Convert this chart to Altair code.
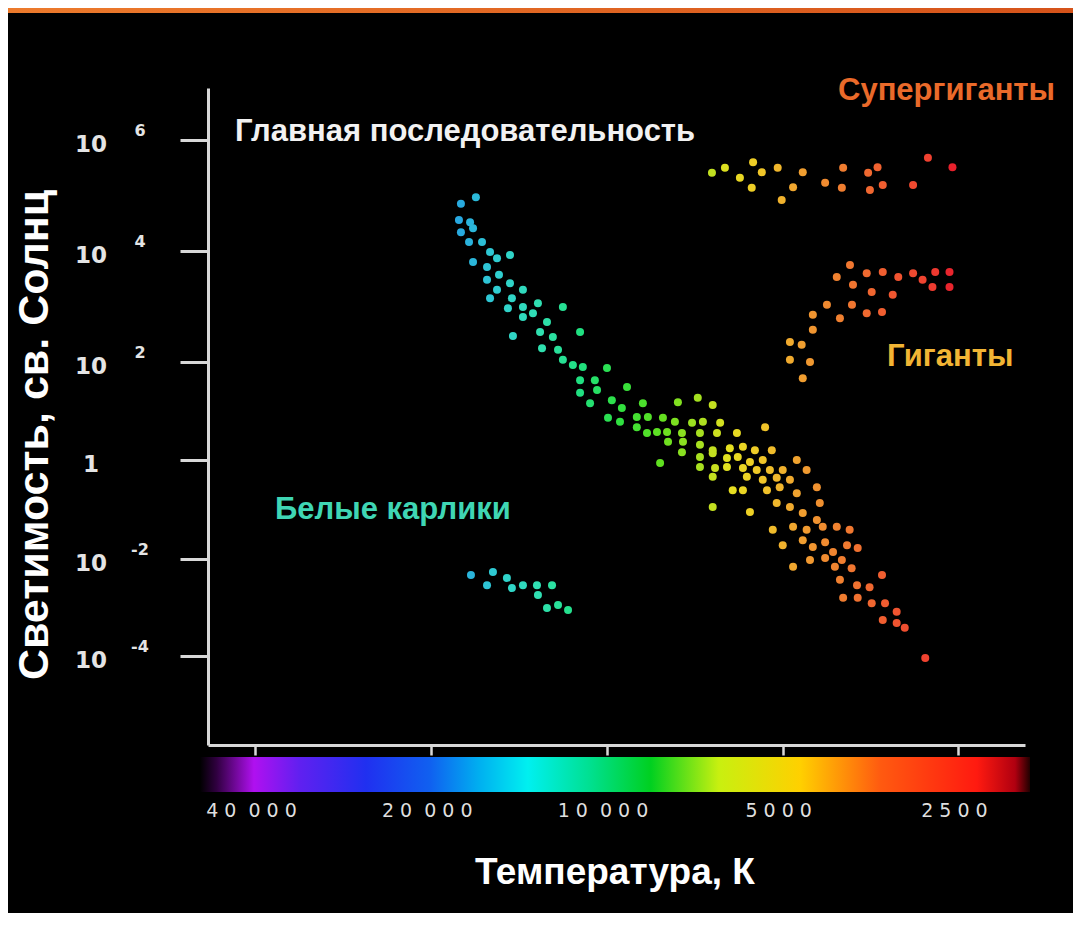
import altair as alt
import pandas as pd

# ---------------- data (temperature K, log10 luminosity in solar units) -------------
ms_temp = [
    16770, 17790, 17930, 17160, 16960, 17790, 17230, 16370, 16960, 15860, 15430, 14660,
    16050, 15310, 16050, 14660, 15430, 13930, 15860, 14550, 14780, 13930, 13930, 14490,
    13130, 11900, 13390, 12670, 13020, 12380, 11120, 12920, 12130, 11900, 11440, 11000,
    10000, 11120, 10490, 9240, 11120, 10400, 9810, 8680, 10690, 9430, 9960, 9500,
    8890, 8510, 8890, 8540, 8210,
    7560, 6990, 6590, 8020, 7650, 7150, 6850, 6400, 7890, 7440, 6930, 6480,
    5990, 5360, 7860, 7410, 6930, 6590, 6160, 5850, 5580, 5220, 7440, 6930,
    6590, 6230, 5970, 5690, 5410, 4730, 8110, 6930, 6530, 6230, 5850, 5540,
    5260, 5000, 4550, 6590, 5760, 5410, 5120, 4860, 6090, 5850, 5320, 6590, 5690,
    5060, 4730, 4370, 4320, 5120, 4860, 4620, 4370, 4040, 3840, 5200, 4800,
    4550, 4270, 5000, 4620, 4440, 4230, 3880, 3720, 4100, 4490, 4230, 3960,
    4800, 4070, 3810, 3990, 3730, 3550, 3380, 3940, 3720, 3520, 3340, 3370,
    3190, 3190, 3090, 2850,
]
ms_lum = [
    4.97, 4.85, 4.56, 4.52, 4.41, 4.34, 4.16, 4.16, 3.80, 3.98, 3.87, 3.93,
    3.71, 3.57, 3.48, 3.42, 3.30, 3.30, 3.15, 3.15, 2.97, 2.99, 2.81, 2.47,
    3.06, 2.99, 2.88, 2.72, 2.54, 2.45, 2.54, 2.25, 2.22, 2.04, 1.94, 1.90,
    1.88, 1.63, 1.63, 1.49, 1.37, 1.43, 1.22, 1.16, 1.16, 1.06, 0.86, 0.78,
    0.88, 0.88, 0.67, 0.55, 0.57,
    1.18, 1.27, 1.12, 0.86, 0.78, 0.76, 0.78, 0.76, 0.57, 0.55, 0.55, 0.55,
    0.55, 0.67, 0.37, 0.37, 0.31, 0.20, 0.24, 0.27, 0.20, 0.20, 0.16, 0.06,
    0.14, 0.04, 0.06, -0.04, 0.00, 0.00, -0.06, -0.14, -0.16, -0.14, -0.16, -0.20,
    -0.20, -0.20, -0.20, -0.34, -0.34, -0.40, -0.36, -0.40, -0.61, -0.61, -0.61, -0.95, -1.05,
    -0.55, -0.67, -0.55, -0.87, -0.87, -0.95, -1.07, -1.21, -1.35, -1.41, -1.41, -1.35,
    -1.41, -1.35, -1.72, -1.62, -1.76, -1.66, -1.72, -1.78, -1.86, -2.02, -1.98, -2.02,
    -2.16, -2.16, -2.19, -2.43, -2.54, -2.58, -2.33, -2.80, -2.80, -2.91, -2.91, -3.26,
    -3.09, -3.32, -3.42, -4.04,
]
wd_temp = [17100, 15680, 16050, 14840, 14550, 13930, 13180, 12420, 13130, 12670, 12130, 11660]
wd_lum = [-2.33, -2.27, -2.54, -2.39, -2.60, -2.54, -2.54, -2.54, -2.74, -3.01, -2.95, -3.05]
sg_temp = [6610, 6280, 5920, 5620, 5430, 5650, 5100, 4620, 4800, 5020,
           4230, 3940, 3960, 3570, 3440, 3545, 3370, 2990, 2820, 2560]
sg_lum = [5.41, 5.50, 5.32, 5.60, 5.42, 5.14, 5.50, 5.42, 5.15, 4.92,
          5.23, 5.50, 5.14, 5.41, 5.51, 5.10, 5.19, 5.19, 5.68, 5.51]
gi_temp = [3835, 4040, 3790, 3590, 3370, 3170, 2990, 2880, 2740, 2590, 2590, 2770, 3520,
           3240, 4200, 3805, 3990, 3590, 3380, 4440, 4440, 4860, 4640, 4860, 4490, 4620]
gi_lum = [3.75, 3.53, 3.39, 3.60, 3.62, 3.53, 3.60, 3.48, 3.62, 3.62, 3.35, 3.35, 3.26,
          3.21, 3.03, 3.03, 2.79, 2.88, 2.90, 2.85, 2.58, 2.36, 2.31, 2.04, 2.00, 1.67]

# axis ticks / labels
x_tick_values = [40000, 20000, 10000, 5000, 2500]
x_tick_labels = ["40 000", "20 000", "10 000", "5000", "2500"]
y_tick_exps = [6, 4, 2, 0, -2, -4]
y_tick_base = ["10", "10", "10", "1", "10", "10"]
y_tick_sup = ["6", "4", "2", "", "-2", "-4"]

# spectrum colours (temperature -> colour)
color_temps = [2550, 2800, 3410, 3990, 4670, 5470, 6150, 6930, 8100, 9500, 11100, 13000, 15250, 17900]
color_hex = ["#e8202c", "#f04030", "#f06030", "#f08030", "#f0a030", "#f0c828", "#e6e020",
             "#a8e020", "#60e020", "#30e040", "#20e080", "#30e0b0", "#30d0d0", "#28a8e0"]

bar_offsets = [0.0, 0.02, 0.065, 0.12, 0.2, 0.277, 0.337, 0.395, 0.47, 0.543, 0.625, 0.723, 0.82, 0.936, 0.982, 1.0]
bar_colors = ["#000000", "#300040", "#b010f0", "#6020f0", "#2030f0", "#1060f0", "#00b0f0", "#00f0f0",
              "#00e090", "#00d020", "#c8f010", "#ffd000", "#ff5a10", "#ff1a10", "#b00010", "#200000"]

# ---------------- frames -------------
rows = []
for name, ts, ls in [("ms", ms_temp, ms_lum), ("wd", wd_temp, wd_lum),
                     ("sg", sg_temp, sg_lum), ("gi", gi_temp, gi_lum)]:
    for t, l in zip(ts, ls):
        rows.append({"T": t, "L": l, "group": name})
stars = pd.DataFrame(rows)

NB = "\u00a0"


def spaced(s):
    # widen the digit spacing like the square-digit labels of the original
    return (NB * 2).join(NB.join(group) for group in s.split(" "))


ylab = pd.DataFrame({"L": y_tick_exps, "base": y_tick_base, "sup": y_tick_sup})
xlab = pd.DataFrame({"T": x_tick_values, "lab": [spaced(s) for s in x_tick_labels]})
one = alt.Data(values=[{"a": 1}])

W, H = 817, 657
x_scale = alt.Scale(type="log", domain=[1923, 48240], reverse=True, nice=False)
y_scale = alt.Scale(type="linear", domain=[-5.835, -4, -2, 0, 2, 4, 6, 6.937],
                    range=[657, 568, 471, 372, 274, 163, 52, 0], nice=False, zero=False)
c_scale = alt.Scale(type="linear", domain=color_temps, range=color_hex, interpolate="rgb")

AX = "#d8d8d8"
x_axis = alt.Axis(values=x_tick_values, labels=False, title=None, grid=False,
                  tickSize=10, tickWidth=2.5, tickColor=AX, domainColor=AX, domainWidth=3)
y_axis = alt.Axis(values=y_tick_exps, labels=False, title=None, grid=False,
                  tickSize=28, tickWidth=3, tickColor=AX, domainColor=AX, domainWidth=3)

points = alt.Chart(stars).mark_circle(size=64, opacity=1).encode(
    x=alt.X("T:Q", scale=x_scale, axis=x_axis),
    y=alt.Y("L:Q", scale=y_scale, axis=y_axis),
    color=alt.Color("T:Q", scale=c_scale, legend=None),
)

band = alt.Chart(one).mark_rect(
    color=alt.Gradient(gradient="linear",
                       stops=[alt.GradientStop(offset=0, color="#ec7a2c"),
                              alt.GradientStop(offset=1, color="#d5531a")],
                       x1=0, x2=1, y1=0, y2=0)
).encode(x=alt.value(-200), x2=alt.value(865), y=alt.value(-80), y2=alt.value(-75))

colorbar = alt.Chart(one).mark_rect(
    color=alt.Gradient(gradient="linear",
                       stops=[alt.GradientStop(offset=o, color=c) for o, c in zip(bar_offsets, bar_colors)],
                       x1=0, x2=1, y1=0, y2=0)
).encode(x=alt.value(-8), x2=alt.value(822), y=alt.value(669), y2=alt.value(704))

ybase = alt.Chart(ylab).mark_text(font="DejaVu Sans", fontSize=23, fontWeight="bold",
                                  color="#e4e4e4", align="center", baseline="middle", dy=5).encode(
    x=alt.value(91 - 208), y=alt.Y("L:Q", scale=y_scale, axis=y_axis), text="base:N")
ysup = alt.Chart(ylab).mark_text(font="DejaVu Sans", fontSize=16, fontWeight="bold",
                                 color="#e4e4e4", align="center", baseline="middle", dy=-9).encode(
    x=alt.value(140 - 208), y=alt.Y("L:Q", scale=y_scale, axis=y_axis), text="sup:N")

xtext = alt.Chart(xlab).mark_text(font="DejaVu Sans", fontSize=19, color="#dedede",
                                  align="center", baseline="middle", dx=-4).encode(
    x=alt.X("T:Q", scale=x_scale, axis=x_axis), y=alt.value(811 - 88), text="lab:N")


def label(txt, x, y, color, size, align="left", angle=0):
    kw = dict(text=txt, font="Liberation Sans", fontSize=size, fontWeight="bold", color=color,
              align=align, baseline="alphabetic")
    if angle:
        kw["angle"] = angle
    return alt.Chart(one).mark_text(**kw).encode(x=alt.value(x), y=alt.value(y))


texts = [
    label("Главная последовательность", 235 - 208, 141 - 88, "#f2f2f2", 31),
    label("Супергиганты", 838 - 208, 100 - 88, "#ea6a2a", 31),
    label("Гиганты", 887 - 208, 366 - 88, "#f2b534", 31),
    label("Белые карлики", 275 - 208, 519 - 88, "#3fd6b4", 31),
    label("Температура, К", 615 - 208, 884 - 88, "#ffffff", 37, align="center"),
    label("Светимость, св. Солнц", 48 - 208, 435 - 88, "#ffffff", 43,
          align="center", angle=270),
]

chart = alt.layer(band, colorbar, points, ybase, ysup, xtext, *texts).properties(
    width=W, height=H,
    padding={"left": 200, "top": 80, "right": 48, "bottom": 168},
    autosize=alt.AutoSizeParams(type="none"),
    background="#000000",
).configure_view(strokeWidth=0)

chart.save("out.html", embed_options={"renderer": "svg", "actions": False})
